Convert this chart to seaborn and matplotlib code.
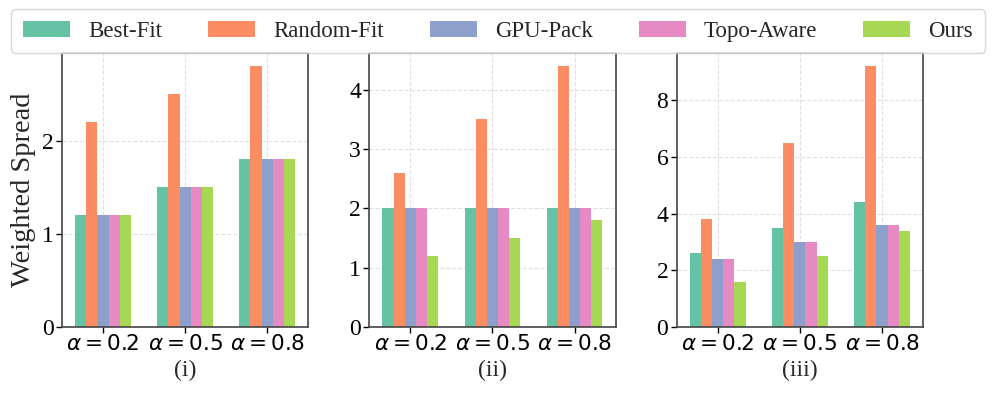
import numpy as np
import pandas as pd
import matplotlib
matplotlib.use("Agg")
import matplotlib.pyplot as plt
import seaborn as sns

methods = ["Best-Fit", "Random-Fit", "GPU-Pack", "Topo-Aware", "Ours"]
alphas = [r"$\alpha=0.2$", r"$\alpha=0.5$", r"$\alpha=0.8$"]
panel_titles = ["(i)", "(ii)", "(iii)"]

# values per panel: rows = alpha, columns = methods
panel_i = [[1.2, 2.2, 1.2, 1.2, 1.2],
           [1.5, 2.5, 1.5, 1.5, 1.5],
           [1.8, 2.8, 1.8, 1.8, 1.8]]
panel_ii = [[2.0, 2.6, 2.0, 2.0, 1.2],
            [2.0, 3.5, 2.0, 2.0, 1.5],
            [2.0, 4.4, 2.0, 2.0, 1.8]]
panel_iii = [[2.6, 3.8, 2.4, 2.4, 1.6],
             [3.5, 6.5, 3.0, 3.0, 2.5],
             [4.4, 9.2, 3.6, 3.6, 3.4]]
panels = [panel_i, panel_ii, panel_iii]
yticks = [[0, 1, 2], [0, 1, 2, 3, 4], [0, 2, 4, 6, 8]]

sns.set_theme(style="white")
plt.rcParams["font.family"] = ["Liberation Serif", "DejaVu Sans"]
plt.rcParams["mathtext.fontset"] = "dejavusans"

fig, axes = plt.subplots(1, 3, figsize=(9.96, 3.97), dpi=100)
palette = sns.color_palette("Set2", 5)

for k, (ax, vals) in enumerate(zip(axes, panels)):
    rows = []
    for i, a in enumerate(alphas):
        for j, m in enumerate(methods):
            rows.append({"alpha": a, "method": m, "value": vals[i][j]})
    df = pd.DataFrame(rows)
    sns.barplot(data=df, x="alpha", y="value", hue="method", palette=palette,
                ax=ax, width=0.68, gap=0, saturation=1, edgecolor="none",
                linewidth=0, legend=(k == 0))
    vmax = max(max(r) for r in vals)
    ax.set_ylim(0, vmax * 1.05)
    ax.set_xlim(-0.5, 2.5)
    ax.set_yticks(yticks[k])
    ax.grid(True, linestyle="--", color="#e0e0e0", linewidth=0.8)
    ax.set_axisbelow(True)
    for s in ax.spines.values():
        s.set_color("#444444")
        s.set_linewidth(1.2)
    ax.tick_params(axis="y", labelsize=17, length=4, width=1, colors="black",
                   left=True, direction="out", pad=2)
    ax.tick_params(axis="x", labelsize=15.5, length=4, width=1, colors="black",
                   bottom=True, direction="out", pad=2)
    ax.set_xlabel(panel_titles[k], fontsize=17, labelpad=3)
    ax.set_ylabel("Weighted Spread" if k == 0 else "", fontsize=20.5)

handles, labels = axes[0].get_legend_handles_labels()
axes[0].get_legend().remove()
fig.legend(handles, labels, loc="upper center", ncol=5, fontsize=16.5,
           bbox_to_anchor=(0.5, 1.005), frameon=True, fancybox=True,
           handlelength=2.05, handleheight=0.7, handletextpad=0.8,
           columnspacing=2.0, borderpad=0.5, edgecolor="#cccccc")

fig.subplots_adjust(left=0.0622, right=0.9267, top=0.8665, bottom=0.1763, wspace=0.248)
fig.savefig("out.png", dpi=100)
